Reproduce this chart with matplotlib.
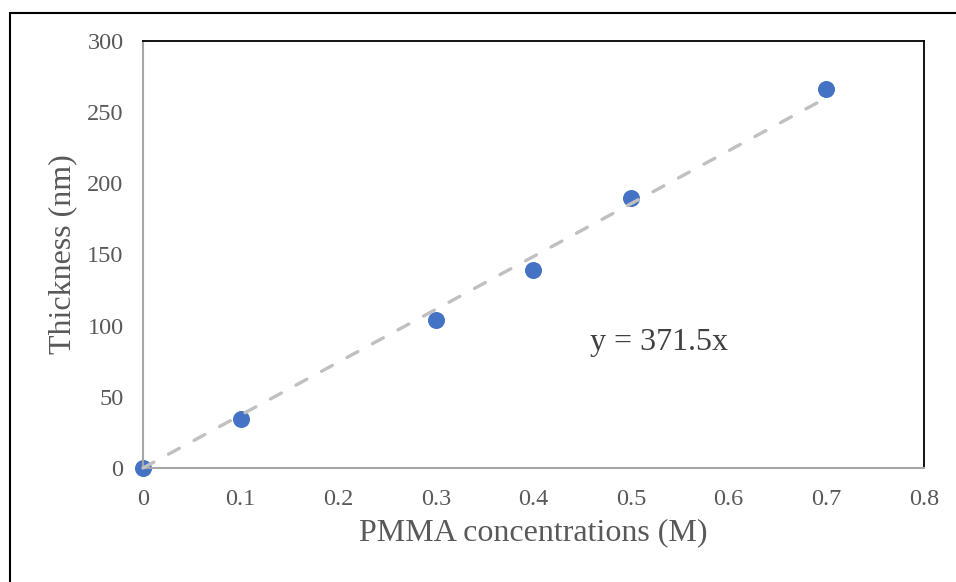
import numpy as np
import matplotlib
matplotlib.use("Agg")
import matplotlib.pyplot as plt
from matplotlib.patches import Rectangle
from matplotlib.ticker import FuncFormatter

# data
conc = [0, 0.1, 0.3, 0.4, 0.5, 0.7]
thickness = [0, 34.5, 104, 139, 190, 266]
slope = 371.5
x_ticks = [0, 0.1, 0.2, 0.3, 0.4, 0.5, 0.6, 0.7, 0.8]
y_ticks = [0, 50, 100, 150, 200, 250, 300]

plt.rcParams['font.family'] = ['Liberation Serif', 'DejaVu Serif']

fig = plt.figure(figsize=(9.56, 5.82), dpi=100)
ax = fig.add_axes([0.1496, 0.1959, 0.8169, 0.7337])

# outer frame round the chart
fig.patches.append(Rectangle((9.5 / 956, -0.1), 1.2, (582 - 12.5) / 582 + 0.1,
                             transform=fig.transFigure, fill=False,
                             edgecolor='black', linewidth=1.5, clip_on=False))

ax.scatter(conc, thickness, s=150, color='#4472C4', zorder=2, linewidths=0,
           clip_on=False)

# trendline through origin, drawn over the points like excel does
trend_x = np.array([0, max(conc)])
ax.plot(trend_x, slope * trend_x, color='#C0C0C0', linewidth=2.4,
        dashes=(3.7, 5.0), dash_capstyle='round', zorder=3, clip_on=False)

ax.text(0.458, 83, 'y = 371.5x', fontsize=23, color='#404040',
        ha='left', va='baseline')

ax.set_xlim(0, 0.8)
ax.set_ylim(0, 300)
ax.set_xticks(x_ticks)
ax.set_yticks(y_ticks)
ax.xaxis.set_major_formatter(FuncFormatter(lambda v, p: '%g' % round(v, 2)))
ax.tick_params(length=0, labelsize=17.5, labelcolor='#595959')
ax.tick_params(axis='y', pad=14)
ax.tick_params(axis='x', pad=15)

for side in ['left', 'bottom']:
    ax.spines[side].set_color('#A6A6A6')
    ax.spines[side].set_linewidth(1.5)
for side in ['top', 'right']:
    ax.spines[side].set_color('black')
    ax.spines[side].set_linewidth(1.3)

ax.set_xlabel('PMMA concentrations (M)', fontsize=23, color='#595959', labelpad=6)
ax.set_ylabel('Thickness (nm)', fontsize=23, color='#595959', labelpad=7)

fig.savefig('out.png', dpi=100)
